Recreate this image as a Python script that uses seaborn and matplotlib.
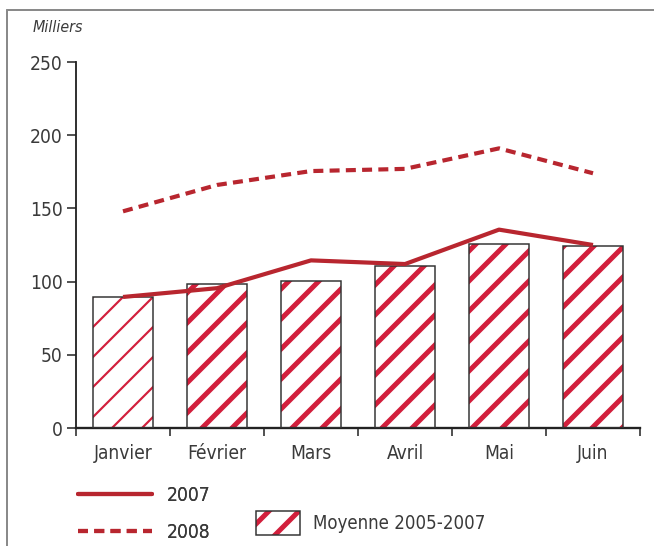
import numpy as np
import matplotlib
matplotlib.use("Agg")
import matplotlib.pyplot as plt
import seaborn as sns
from matplotlib.patches import Rectangle
from matplotlib.lines import Line2D

mois = ["Janvier", "Février", "Mars", "Avril", "Mai", "Juin"]
moyenne = [89.5, 98.5, 100.5, 110.5, 125.5, 124.0]
serie_2007 = [89.5, 95.5, 114.5, 112.0, 135.5, 125.0]
serie_2008 = [148.0, 166.0, 175.5, 177.0, 191.0, 174.0]
yticks = [0, 50, 100, 150, 200, 250]

rouge_ligne = "#B8262F"
rouge_hachure = "#D21F3C"
gris = "#3a3a3a"

# la densité des hachures dépend du dpi : on règle le dpi, et on compense les tailles en points
DPI = 90
k = 120 / DPI


def pt(v):
    return v * k


sns.set_style("white")
plt.rcParams["font.family"] = ["Liberation Sans Narrow", "DejaVu Sans"]
plt.rcParams["font.stretch"] = "condensed"
plt.rcParams["hatch.linewidth"] = pt(3.0)

fig = plt.figure(figsize=(654 / DPI, 546 / DPI), dpi=DPI)
ax = fig.add_axes([76 / 654, 1 - 428 / 546, 564 / 654, 366 / 546])

sns.barplot(x=mois, y=moyenne, color="white", edgecolor=rouge_hachure,
            linewidth=0, hatch="/", width=0.64, ax=ax)
for i, p in enumerate(ax.patches):
    if hasattr(p, "set_hatch_linewidth"):
        p.set_hatch_linewidth(pt(1.3) if i == 0 else pt(3.0))
    ax.add_patch(Rectangle(p.get_xy(), p.get_width(), p.get_height(),
                           fill=False, edgecolor="#333333", linewidth=pt(0.9), zorder=3))

x = np.arange(len(mois))
ax.plot(x, serie_2007, color=rouge_ligne, lw=pt(2.5), solid_capstyle="butt", zorder=4)
ax.plot(x, serie_2008, color=rouge_ligne, lw=pt(2.5), dashes=(2.4, 1.5), zorder=4)

ax.set_xlim(-0.5, 5.5)
ax.set_ylim(0, 250)
ax.set_yticks(yticks)
ax.set_xticks(x)
ax.set_xticklabels(mois)
ax.set_xticks(np.arange(-0.5, 6, 1), minor=True)
ax.tick_params(axis="x", which="major", length=0, pad=pt(9.5), labelsize=pt(11.5), labelcolor=gris)
ax.tick_params(axis="x", which="minor", length=pt(5), width=pt(1.0), color="#333333",
               direction="out", bottom=True)
ax.tick_params(axis="y", length=pt(5.5), width=pt(1.0), color="#333333", pad=pt(2.5),
               labelsize=pt(11.5), labelcolor=gris, left=True, direction="out")
ax.set_xlabel("")
ax.set_ylabel("")
for s in ["top", "right"]:
    ax.spines[s].set_visible(False)
ax.spines["left"].set_color("#222222")
ax.spines["left"].set_linewidth(pt(1.1))
ax.spines["bottom"].set_color("#222222")
ax.spines["bottom"].set_linewidth(pt(1.4))

fig.text(33 / 654, 1 - 28 / 546, "Milliers", style="italic", fontsize=pt(9.5),
         color=gris, va="center", ha="left")

# cadre gris en haut et à gauche
fig.add_artist(Line2D([7 / 654, 7 / 654], [0, 1 - 10 / 546], color="#8a8a8a", lw=pt(1.2),
                      transform=fig.transFigure))
fig.add_artist(Line2D([7 / 654, 1], [1 - 10 / 546, 1 - 10 / 546], color="#8a8a8a", lw=pt(1.2),
                      transform=fig.transFigure))

h2007 = Line2D([], [], color=rouge_ligne, lw=pt(2.5))
h2008 = Line2D([], [], color=rouge_ligne, lw=pt(2.5), dashes=(2.4, 1.5))
leg1 = fig.legend([h2007, h2008], ["2007", "2008"], loc="upper left",
                  bbox_to_anchor=(78 / 654, 1 - 486 / 546), frameon=False,
                  borderpad=0, borderaxespad=0, handlelength=3.85, handletextpad=0.77,
                  labelspacing=0.95, fontsize=pt(11.5), labelcolor=gris)
hmoy = (Rectangle((0, 0), 1, 1, facecolor="white", edgecolor=rouge_hachure, hatch="/", lw=0),
        Rectangle((0, 0), 1, 1, fill=False, edgecolor="#333333", lw=pt(0.9)))
leg2 = fig.legend([hmoy], ["Moyenne 2005-2007"], loc="upper left",
                  bbox_to_anchor=(256 / 654, 1 - 511 / 546), frameon=False,
                  borderpad=0, borderaxespad=0, handlelength=2.36, handleheight=1.6,
                  handletextpad=0.72, fontsize=pt(11.2), labelcolor=gris)
fig.add_artist(leg1)

fig.savefig("out.png", dpi=DPI)
